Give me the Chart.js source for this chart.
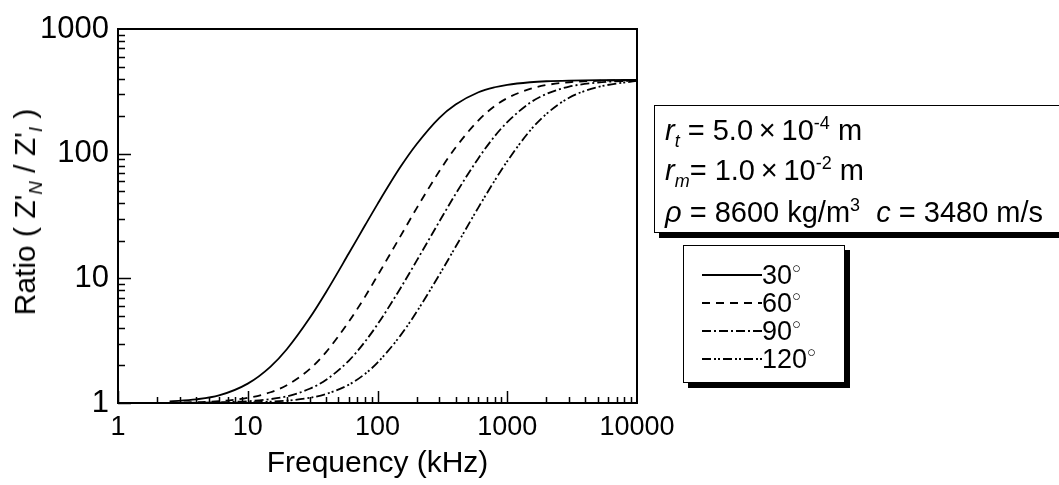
<!DOCTYPE html>
<html>
<head>
<meta charset="utf-8">
<script src="https://cdn.jsdelivr.net/npm/chart.js@4"></script>
<style>
  body { margin: 0; background: #fff; }
  #wrap { position: relative; width: 1059px; height: 485px; overflow: hidden; font-family: "Liberation Sans", Arial, sans-serif; color: #000; background: #fff; }
  #chart { position: absolute; left: 0; top: 0; z-index: 2; }
  .box { position: absolute; background: #fff; border: 1.5px solid #000; box-shadow: 5px 5px 0 #000; z-index: 1; }
  .txt { position: absolute; white-space: nowrap; line-height: 1; z-index: 3; }
  sup, sub { font-size: 62%; line-height: 0; }
  #ytitle { position: absolute; left: 25px; top: 212px; font-size: 30px; white-space: nowrap; transform: translate(-50%, -50%) rotate(-90deg); z-index: 3; }
  .deg { font-size: 55%; vertical-align: 0.75em; }
</style>
</head>
<body>
<div id="wrap">
  <div class="box" style="left:654px; top:105px; width:420px; height:126px;"></div>
  <div class="box" style="left:683px; top:245px; width:160px; height:136px;"></div>
  <canvas id="chart" width="1059" height="485"></canvas>
  <div id="ytitle">Ratio ( Z'<sub><i>N</i></sub> / Z'<sub><i>I</i></sub> )</div>
  <div class="txt" style="left:665px; top:116px; font-size:29px;"><i>r<sub>t</sub></i> = 5.0&#x2009;×&#x2009;10<sup>-4</sup> m</div>
  <div class="txt" style="left:665px; top:156px; font-size:29px;"><i>r<sub>m</sub></i>= 1.0&#x2009;×&#x2009;10<sup>-2</sup> m</div>
  <div class="txt" style="left:665px; top:198px; font-size:29px;"><i>ρ</i> = 8600 kg/m<sup>3</sup>&nbsp;&nbsp;<i>c</i> = 3480 m/s</div>
  <div id="legendText"></div>
</div>
<script>
// frequencies (kHz)
const freqs = [2.5, 4, 6, 10, 15, 20, 30, 40, 60, 80, 100, 150, 200, 300, 400, 600, 800, 1000, 1500, 2000, 3000, 5000, 10000];

const ratio30 = [1.03, 1.07, 1.15, 1.43, 1.96, 2.7, 4.8, 7.7, 15.8, 26.5, 39.4, 78, 119, 194, 248, 311, 341, 357, 374, 381, 386, 389, 390];
const ratio60 = [1.006, 1.016, 1.035, 1.1, 1.22, 1.39, 1.87, 2.55, 4.48, 7.1, 10.5, 21.7, 36.4, 72.5, 112, 185, 241, 279, 331, 355, 374, 384, 389];
const ratio90 = [1.0, 1.005, 1.012, 1.033, 1.074, 1.13, 1.3, 1.53, 2.18, 3.1, 4.27, 8.3, 13.8, 28.6, 47.5, 92, 138, 179, 256, 301, 345, 372, 387];
const ratio120 = [1.0, 1.002, 1.004, 1.011, 1.025, 1.044, 1.1, 1.18, 1.4, 1.71, 2.11, 3.47, 5.37, 10.7, 17.9, 37.1, 60.8, 87, 153, 208, 281, 342, 384];

const angleLabels = ['30', '60', '90', '120'];
const dashes = [[], [8, 6], [9, 3, 2, 3], [9, 3, 2, 2, 2, 3]];

const xTicks = [1, 10, 100, 1000, 10000];
const yTicks = [1, 10, 100, 1000];

const series = [ratio30, ratio60, ratio90, ratio120];

const datasets = series.map((vals, i) => ({
  label: angleLabels[i] + '°',
  data: freqs.map((f, k) => ({ x: f, y: vals[k] })),
  borderColor: '#000',
  borderWidth: 1.8,
  borderDash: dashes[i],
  pointRadius: 0,
  fill: false,
  cubicInterpolationMode: 'monotone'
}));

// inward ticks, top/right frame and legend samples
const framePlugin = {
  id: 'frame',
  afterDraw(chart) {
    const ctx = chart.ctx;
    const a = chart.chartArea;
    const xs = chart.scales.x, ys = chart.scales.y;
    ctx.save();
    ctx.strokeStyle = '#000';
    ctx.lineWidth = 2;
    ctx.setLineDash([]);
    ctx.beginPath();
    ctx.moveTo(a.left, a.top); ctx.lineTo(a.right, a.top); ctx.lineTo(a.right, a.bottom);
    ctx.stroke();

    ctx.lineWidth = 1.5;
    ctx.beginPath();
    for (let d = 1; d <= 1000; d *= 10) {
      for (let m = 1; m <= 9; m++) {
        const v = d * m;
        const px = Math.round(xs.getPixelForValue(v)) + 0.5;
        const len = m === 1 ? 12 : 6;
        ctx.moveTo(px, a.bottom); ctx.lineTo(px, a.bottom - len);
      }
    }
    for (let d = 1; d <= 100; d *= 10) {
      for (let m = 1; m <= 9; m++) {
        const v = d * m;
        const py = Math.round(ys.getPixelForValue(v)) + 0.5;
        const len = m === 1 ? 13 : 7;
        ctx.moveTo(a.left, py); ctx.lineTo(a.left + len, py);
      }
    }
    ctx.stroke();

    // legend sample lines
    chart.data.datasets.forEach((ds, i) => {
      const y = 275 + i * 28;
      ctx.lineWidth = 1.8;
      ctx.setLineDash(ds.borderDash);
      ctx.beginPath();
      ctx.moveTo(702, y); ctx.lineTo(762, y);
      ctx.stroke();
    });
    ctx.restore();
  }
};

new Chart(document.getElementById('chart'), {
  type: 'line',
  data: { datasets: datasets },
  options: {
    responsive: false,
    animation: false,
    layout: { padding: { left: 0, top: 29, right: 422, bottom: 0 } },
    plugins: { legend: { display: false }, tooltip: { enabled: false } },
    scales: {
      x: {
        type: 'logarithmic',
        min: 1,
        max: 10000,
        afterBuildTicks: s => { s.ticks = xTicks.map(v => ({ value: v })); },
        afterFit: s => { s.height = 82; },
        grid: { display: false, drawTicks: false },
        border: { display: true, color: '#000', width: 2 },
        ticks: {
          color: '#000', font: { family: 'Liberation Sans', size: 27 }, padding: 8,
          autoSkip: false, maxRotation: 0,
          callback: v => String(v)
        },
        title: {
          display: true, text: 'Frequency (kHz)', color: '#000',
          font: { family: 'Liberation Sans', size: 30 }, padding: { top: 0, bottom: 3 }
        }
      },
      y: {
        type: 'logarithmic',
        min: 1,
        max: 1000,
        afterBuildTicks: s => { s.ticks = yTicks.map(v => ({ value: v })); },
        afterFit: s => { s.width = 118; },
        grid: { display: false, drawTicks: false },
        border: { display: true, color: '#000', width: 2 },
        ticks: {
          color: '#000', font: { family: 'Liberation Sans', size: 31 }, padding: 9,
          autoSkip: false,
          callback: v => String(v)
        }
      }
    }
  },
  plugins: [framePlugin]
});

// legend labels
const legendText = document.getElementById('legendText');
angleLabels.forEach((lab, i) => {
  const el = document.createElement('div');
  el.className = 'txt';
  el.style.left = '762px';
  el.style.top = (261 + i * 28) + 'px';
  el.style.fontSize = '27px';
  el.innerHTML = lab + '<span class="deg">○</span>';
  legendText.appendChild(el);
});
</script>
</body>
</html>
